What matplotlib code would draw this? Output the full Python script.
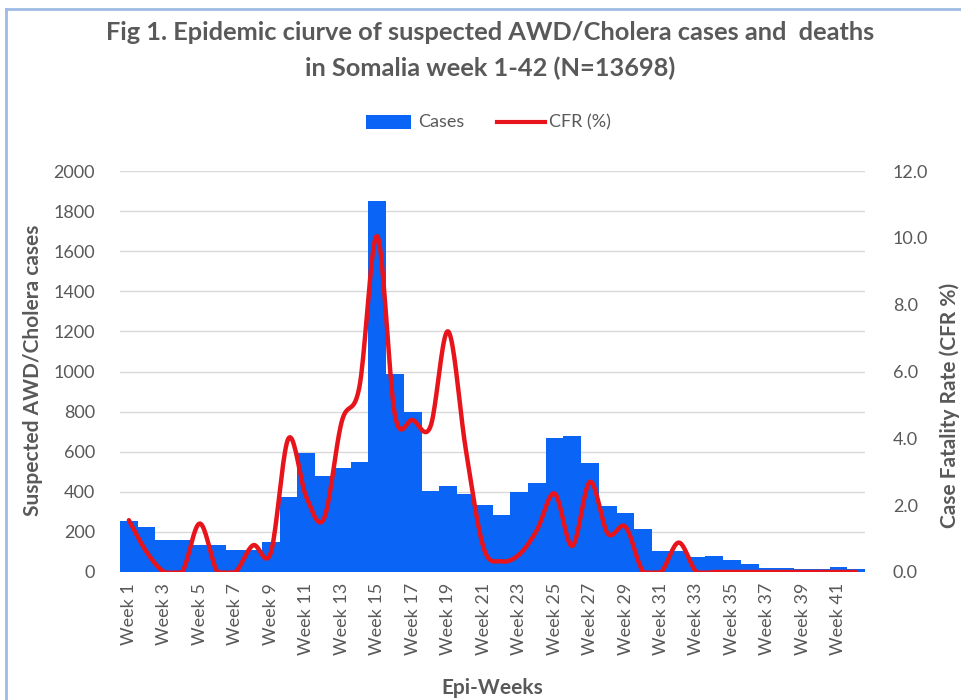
import numpy as np
import matplotlib
matplotlib.use("Agg")
import matplotlib.pyplot as plt
from matplotlib.patches import Rectangle
from matplotlib.lines import Line2D

weeks = list(range(1, 43))
week_labels = [f"Week {w}" for w in weeks]
cases = [255, 225, 158, 158, 135, 135, 110, 110, 148, 375,
         592, 479, 517, 550, 1852, 988, 800, 404, 429, 387,
         334, 284, 397, 442, 667, 678, 545, 329, 295, 214,
         105, 105, 77, 82, 60, 38, 22, 22, 15, 15, 27, 15]
cfr = [1.55, 0.6, 0.0, 0.0, 1.45, 0.0, 0.0, 0.8, 0.58, 4.0,
       2.25, 1.6, 4.5, 5.55, 10.05, 4.7, 4.55, 4.35, 7.2, 3.65,
       0.72, 0.32, 0.52, 1.25, 2.35, 0.78, 2.7, 1.15, 1.35, 0.0,
       0.0, 0.88, 0.0, 0.0, 0.0, 0.0, 0.0, 0.0, 0.0, 0.0, 0.0, 0.0]

plt.rcParams['font.family'] = ['Lato', 'DejaVu Sans']
GRAY = '#595959'

fig = plt.figure(figsize=(9.61, 7.0), dpi=100)
ax = fig.add_axes([120/961, 1-572/700, 745/961, 401/700])
ax2 = ax.twinx()

x = np.arange(len(weeks))
ax.bar(x, cases, width=1.0, color='#0A64F5', zorder=2)
ax.set_xlim(-0.5, len(weeks)-0.5)
ax.set_ylim(0, 2000)
ax.set_yticks(range(0, 2001, 200))
ax.yaxis.grid(True, color='#D9D9D9', linewidth=1.0, zorder=0)
ax.set_axisbelow(True)
ax.set_xticks(x[::2])
ax.set_xticklabels(week_labels[::2], rotation=90, fontsize=13, color=GRAY)
ax.tick_params(axis='both', length=0, colors=GRAY, labelsize=13)
ax.tick_params(axis='y', pad=18)
ax.tick_params(axis='x', pad=8)
for s in ax.spines.values():
    s.set_visible(False)
for s in ax2.spines.values():
    s.set_visible(False)

# Smooth curve (Catmull-Rom) through the CFR points, like Excel's smoothed line
def catmull_rom(xs, ys, n=20):
    xs = np.asarray(xs, float); ys = np.asarray(ys, float)
    px = np.concatenate([[xs[0]], xs, [xs[-1]]])
    py = np.concatenate([[ys[0]], ys, [ys[-1]]])
    ox, oy = [], []
    t = np.linspace(0, 1, n, endpoint=False)
    for i in range(1, len(px)-2):
        p0, p1, p2, p3 = [np.array([px[j], py[j]]) for j in (i-1, i, i+1, i+2)]
        c1 = p1 + (p2 - p0) / 6.0
        c2 = p2 - (p3 - p1) / 6.0
        for tt in t:
            b = ((1-tt)**3)*p1 + 3*((1-tt)**2)*tt*c1 + 3*(1-tt)*tt**2*c2 + tt**3*p2
            ox.append(b[0]); oy.append(b[1])
    ox.append(xs[-1]); oy.append(ys[-1])
    return np.array(ox), np.array(oy)

sx, sy = catmull_rom(x, cfr)
ax2.plot(sx, np.clip(sy, -0.02, None), color='#E8141B', linewidth=3.2, solid_capstyle='round', zorder=3)
ax2.set_ylim(0, 12)
ax2.set_yticks(np.arange(0, 12.1, 2))
ax2.set_yticklabels([f"{v:.1f}" for v in np.arange(0, 12.1, 2)])
ax2.tick_params(axis='y', length=0, colors=GRAY, labelsize=13, pad=20)

fig.text(33/961, 1-370/700, "Suspected AWD/Cholera cases", rotation=90, ha='center', va='center',
         fontsize=15, fontweight='bold', color=GRAY)
fig.text(950/961, 1-405/700, "Case Fatality Rate (CFR %)", rotation=90, ha='center', va='center',
         fontsize=15, fontweight='bold', color=GRAY)
fig.text(492/961, 1-688/700, "Epi-Weeks", ha='center', va='center', fontsize=15,
         fontweight='bold', color=GRAY)

fig.text(490/961, 1-33/700, "Fig 1. Epidemic ciurve of suspected AWD/Cholera cases and  deaths",
         ha='center', va='center', fontsize=18.3, fontweight='bold', color=GRAY)
fig.text(490/961, 1-68/700, "in Somalia week 1-42 (N=13698)",
         ha='center', va='center', fontsize=18.3, fontweight='bold', color=GRAY)

# legend
fig.patches.append(Rectangle((366/961, 1-129/700), 45/961, 14/700, transform=fig.transFigure,
                             facecolor='#0A64F5', edgecolor='none'))
fig.text(418/961, 1-122/700, "Cases", ha='left', va='center', fontsize=13, color=GRAY)
fig.lines.append(Line2D([497/961, 545/961], [1-122/700, 1-122/700], transform=fig.transFigure,
                        color='#E8141B', linewidth=3.0))
fig.text(549/961, 1-122/700, "CFR (%)", ha='left', va='center', fontsize=13, color=GRAY)

# outer frame lines (top and left)
fig.lines.append(Line2D([6/961, 1.0], [1-9/700, 1-9/700], transform=fig.transFigure,
                        color='#9DBBE3', linewidth=2.0))
fig.lines.append(Line2D([6/961, 6/961], [0, 1-9/700], transform=fig.transFigure,
                        color='#9DBBE3', linewidth=2.0))

fig.savefig("out.png", dpi=100, facecolor='white')
